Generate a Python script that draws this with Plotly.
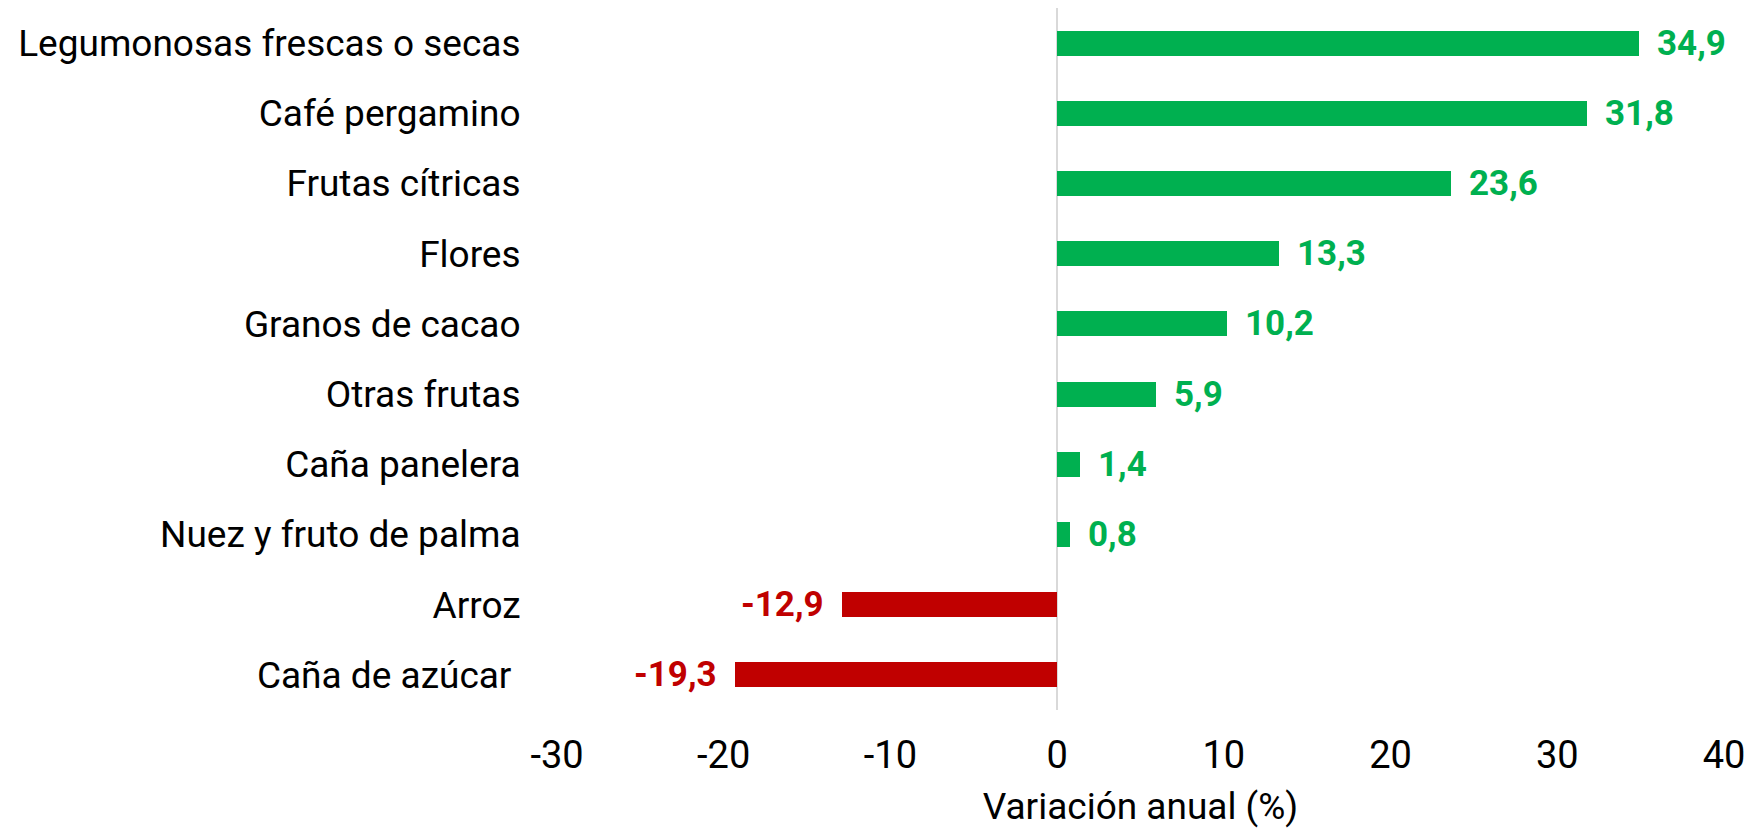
import plotly.graph_objects as go

categories = [
    "Legumonosas frescas o secas",
    "Café pergamino",
    "Frutas cítricas",
    "Flores",
    "Granos de cacao",
    "Otras frutas",
    "Caña panelera",
    "Nuez y fruto de palma",
    "Arroz",
    "Caña de azúcar\u00a0",
]
values = [34.9, 31.8, 23.6, 13.3, 10.2, 5.9, 1.4, 0.8, -12.9, -19.3]
labels = ["34,9", "31,8", "23,6", "13,3", "10,2", "5,9", "1,4", "0,8", "-12,9", "-19,3"]
x_ticks = [-30, -20, -10, 0, 10, 20, 30, 40]
x_title = "Variación anual (%)"

GREEN = "#00B050"
RED = "#C00000"
colors = [GREEN if v >= 0 else RED for v in values]

fig = go.Figure(
    go.Bar(
        x=values,
        y=categories,
        orientation="h",
        width=0.355,
        marker=dict(color=colors, line=dict(width=0)),
        hoverinfo="skip",
    )
)

for cat, v, lab, c in zip(categories, values, labels, colors):
    fig.add_annotation(
        x=v, y=cat, text=lab, showarrow=False,
        xanchor="left" if v >= 0 else "right",
        xshift=16 if v >= 0 else -16,
        yanchor="middle",
        font=dict(family="Roboto", size=35, color=c, weight="bold"),
    )

# page body has an 8px margin, so the figure is sized/offset accordingly
fig.update_layout(
    width=1751, height=827,
    margin=dict(l=549, r=35, t=0, b=125),
    paper_bgcolor="white", plot_bgcolor="white",
    showlegend=False,
    font=dict(family="Roboto", color="black"),
    bargap=0,
)
fig.update_xaxes(
    automargin=True,
    range=[-30, 40], tickvals=x_ticks, ticktext=[str(t) for t in x_ticks],
    showgrid=False, showline=False,
    zeroline=True, zerolinecolor="#d9d9d9", zerolinewidth=2,
    ticks="outside", ticklen=11, tickcolor="rgba(0,0,0,0)",
    tickfont=dict(family="Roboto", size=38, color="black"),
    title=dict(text=x_title, font=dict(family="Roboto", size=37, color="black"), standoff=17),
)
fig.update_yaxes(
    automargin=False,
    categoryorder="array", categoryarray=categories, autorange="reversed",
    showgrid=False, showline=False, zeroline=False,
    ticks="outside", ticklen=28, tickcolor="rgba(0,0,0,0)",
    tickfont=dict(family="Roboto", size=37, color="black"),
)

fig.write_html("out.html")
